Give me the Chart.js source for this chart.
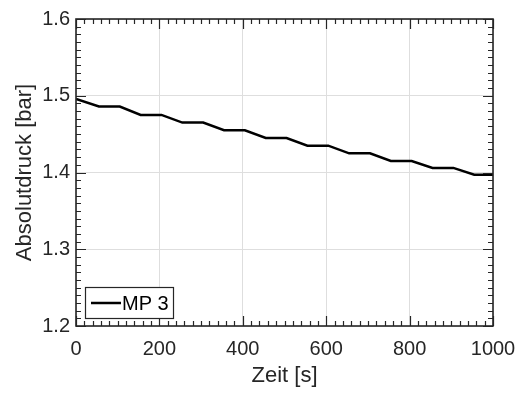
<!DOCTYPE html>
<html>
<head>
<meta charset="utf-8">
<script src="https://cdn.jsdelivr.net/npm/chart.js@4/dist/chart.umd.min.js"></script>
<style>
  html, body { margin: 0; padding: 0; background: #ffffff; }
  #wrap { width: 522px; height: 394px; }
</style>
</head>
<body>
<div id="wrap"><canvas id="c" width="522" height="394"></canvas></div>
<script>
// Measured absolute pressure over time at measuring point MP 3
const timeS = [0, 55, 105, 155, 205, 255, 305, 355, 405, 455, 505, 555, 605, 655, 705, 755, 805, 855, 905, 955, 1000];
const pressureBar = [1.496, 1.486, 1.486, 1.475, 1.475, 1.465, 1.465, 1.455, 1.455, 1.445, 1.445, 1.435, 1.435, 1.425, 1.425, 1.415, 1.415, 1.406, 1.406, 1.397, 1.397];
const seriesLabel = 'MP 3';

const xTicks = [0, 200, 400, 600, 800, 1000];
const yTicks = [1.2, 1.3, 1.4, 1.5, 1.6];
const xTitle = 'Zeit [s]';
const yTitle = 'Absolutdruck [bar]';

const FONT = '"Liberation Sans", Arial, Helvetica, sans-serif';
const AXIS_COLOR = '#262626';

const points = timeS.map((t, i) => ({ x: t, y: pressureBar[i] }));

// Box around the axes with inward major/minor ticks on all four sides
const boxTicks = {
  id: 'boxTicks',
  afterDatasetsDraw(chart) {
    const { ctx, chartArea: a, scales: { x, y } } = chart;
    ctx.save();
    ctx.strokeStyle = AXIS_COLOR;
    ctx.lineWidth = 1.2;
    const major = 10, minor = 5;
    ctx.beginPath();
    for (let v = x.min; v <= x.max + 1e-9; v += 20) {
      const px = Math.round(x.getPixelForValue(v)) + 0.5;
      const len = xTicks.includes(Math.round(v)) ? major : minor;
      ctx.moveTo(px, a.bottom); ctx.lineTo(px, a.bottom - len);
      ctx.moveTo(px, a.top); ctx.lineTo(px, a.top + len);
    }
    for (let k = 0; k <= 40; k++) {
      const v = y.min + k * 0.01;
      const py = Math.round(y.getPixelForValue(v)) + 0.5;
      const len = (k % 10 === 0) ? major : minor;
      ctx.moveTo(a.left, py); ctx.lineTo(a.left + len, py);
      ctx.moveTo(a.right, py); ctx.lineTo(a.right - len, py);
    }
    ctx.stroke();
    ctx.lineWidth = 1.6;
    ctx.strokeRect(a.left, a.top, a.right - a.left, a.bottom - a.top);
    ctx.restore();
  }
};

// Legend box in the lower left corner of the plot area
const cornerLegend = {
  id: 'cornerLegend',
  afterDraw(chart) {
    const { ctx, chartArea: a } = chart;
    const ds = chart.data.datasets[0];
    const bx = a.left + 9, by = a.bottom - 39, bw = 88, bh = 31;
    ctx.save();
    ctx.fillStyle = '#ffffff';
    ctx.fillRect(bx, by, bw, bh);
    ctx.strokeStyle = AXIS_COLOR;
    ctx.lineWidth = 1.2;
    ctx.strokeRect(bx + 0.5, by + 0.5, bw, bh);
    const cy = by + bh / 2 + 0.5;
    ctx.strokeStyle = ds.borderColor;
    ctx.lineWidth = ds.borderWidth;
    ctx.beginPath();
    ctx.moveTo(bx + 6, cy); ctx.lineTo(bx + 36, cy);
    ctx.stroke();
    ctx.fillStyle = '#000000';
    ctx.font = '20px ' + FONT;
    ctx.textBaseline = 'middle';
    ctx.textAlign = 'left';
    ctx.fillText(ds.label, bx + 37, cy + 1);
    ctx.restore();
  }
};

new Chart(document.getElementById('c'), {
  type: 'line',
  data: {
    datasets: [{
      label: seriesLabel,
      data: points,
      borderColor: '#000000',
      borderWidth: 2.5,
      pointRadius: 0,
      tension: 0,
      fill: false
    }]
  },
  options: {
    responsive: false,
    animation: false,
    devicePixelRatio: 1,
    layout: { padding: { left: 0, top: 19, right: 29, bottom: 0 } },
    plugins: { legend: { display: false }, tooltip: { enabled: false } },
    scales: {
      x: {
        type: 'linear',
        min: 0, max: 1000,
        afterBuildTicks(scale) { scale.ticks = xTicks.map(v => ({ value: v })); },
        afterFit(scale) {
          scale.height = 68;
          scale.paddingLeft = 0;
          scale.paddingRight = 0;
        },
        ticks: {
          color: AXIS_COLOR,
          font: { family: FONT, size: 20 },
          padding: 11,
          maxRotation: 0,
          callback: v => String(v)
        },
        grid: { color: '#dedede', lineWidth: 1, drawTicks: false },
        border: { display: false },
        title: {
          display: true, text: xTitle, color: AXIS_COLOR,
          font: { family: FONT, size: 22 },
          padding: { top: 0, bottom: 5 }
        }
      },
      y: {
        type: 'linear',
        min: 1.2, max: 1.6,
        afterBuildTicks(scale) { scale.ticks = yTicks.map(v => ({ value: v })); },
        afterFit(scale) {
          scale.width = 76;
          scale.paddingTop = 0;
          scale.paddingBottom = 0;
        },
        ticks: {
          color: AXIS_COLOR,
          font: { family: FONT, size: 20 },
          padding: 6,
          callback: v => Number(v).toFixed(1)
        },
        grid: { color: '#dedede', lineWidth: 1, drawTicks: false },
        border: { display: false },
        title: {
          display: true, text: yTitle, color: AXIS_COLOR,
          font: { family: FONT, size: 22 },
          padding: { top: 12, bottom: 0 }
        }
      }
    }
  },
  plugins: [boxTicks, cornerLegend]
});
</script>
</body>
</html>
